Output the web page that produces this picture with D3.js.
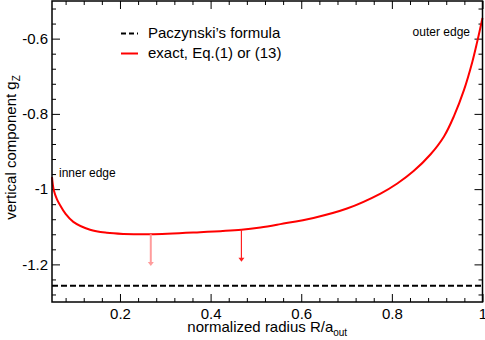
<!DOCTYPE html>
<html>
<head>
<meta charset="utf-8">
<script src="https://cdn.jsdelivr.net/npm/d3@7"></script>
<style>
  body { margin: 0; background: #fff; }
  text { font-family: "Liberation Sans", Arial, sans-serif; fill: #000; }
</style>
</head>
<body>
<div id="wrapper"></div>
<script>
// data
const radius = [0.05, 0.054, 0.061, 0.068, 0.08, 0.097, 0.134, 0.171, 0.208, 0.267, 0.37, 0.468, 0.51, 0.554, 0.627, 0.701, 0.775, 0.812, 0.848, 0.885, 0.915, 0.937, 0.959, 0.9775, 0.988, 1.0]
const gzExact = [-0.968, -1.003, -1.027, -1.043, -1.066, -1.087, -1.108, -1.116, -1.119, -1.120, -1.115, -1.108, -1.102, -1.093, -1.0765, -1.0515, -1.0117, -0.985, -0.952, -0.908, -0.860, -0.806, -0.737, -0.662, -0.610, -0.545]
const gzPaczynski = -1.2566
const arrowX = [0.268, 0.468]
const arrowFrom = [-1.12, -1.108]
const arrowTo = [-1.204, -1.193]
const arrowColors = ["#ff9c9c", "#ff2020"]
const xTicks = [0.2, 0.4, 0.6, 0.8, 1]
const yTicks = [-1.2, -1, -0.8, -0.6]
const legendLabels = ["Paczynski\u2019s formula", "exact, Eq.(1) or (13)"]

function drawChart(){
    let dimensions = {
        width: 485,
        height: 340,
        margin: { top: 1, right: 2.5, bottom: 38, left: 52 },
    }
    dimensions.boundedWidth = dimensions.width - dimensions.margin.left - dimensions.margin.right
    dimensions.boundedHeight = dimensions.height - dimensions.margin.top - dimensions.margin.bottom

    const wrapper = d3.select("#wrapper")
        .append("svg")
        .attr("width", dimensions.width)
        .attr("height", dimensions.height)

    const bounds = wrapper.append("g")
        .attr("transform", `translate(${dimensions.margin.left},${dimensions.margin.top})`)

    const xScale = d3.scaleLinear().domain([0.05, 1]).range([0, dimensions.boundedWidth])
    const yScale = d3.scaleLinear().domain([-1.3, -0.5]).range([dimensions.boundedHeight, 0])

    // minor ticks every 0.04
    const xMinor = d3.range(0.08, 1.0001, 0.04).filter(v => !xTicks.some(t => Math.abs(t - v) < 1e-6))
    const yMinor = d3.range(-1.28, -0.5, 0.04).filter(v => !yTicks.some(t => Math.abs(t - v) < 1e-6))

    const W = dimensions.boundedWidth, H = dimensions.boundedHeight
    const fmt = d => String(d)

    const axes = [
        [d3.axisBottom(xScale), `translate(0,${H})`, xTicks, xMinor, true],
        [d3.axisTop(xScale), `translate(0,0)`, xTicks, xMinor, false],
        [d3.axisLeft(yScale), `translate(0,0)`, yTicks, yMinor, true],
        [d3.axisRight(yScale), `translate(${W},0)`, yTicks, yMinor, false],
    ]
    axes.forEach(([gen, tr, major, minor, labels]) => {
        const g = bounds.append("g").attr("transform", tr)
        g.call(gen.tickValues(major).tickSizeInner(-8).tickSizeOuter(0)
            .tickPadding(labels ? (gen === axes[0][0] ? 6 : 4) : 4)
            .tickFormat(labels ? fmt : ""))
        g.append("g").call(gen.tickValues(minor).tickSizeInner(-4).tickFormat(""))
        g.selectAll(".domain").remove()
        g.selectAll("line").attr("stroke", "#000").attr("stroke-width", 1)
        g.selectAll("text").style("font-size", "15px").attr("fill", "#000")
    })

    // Paczynski line
    bounds.append("line")
        .attr("x1", 0).attr("x2", W)
        .attr("y1", yScale(gzPaczynski)).attr("y2", yScale(gzPaczynski))
        .attr("stroke", "#000").attr("stroke-width", 2)
        .attr("stroke-dasharray", "6,3")

    // exact curve
    const lineGen = d3.line()
        .x((d, i) => xScale(radius[i]))
        .y(d => yScale(d))
        .curve(d3.curveCatmullRom.alpha(0.5))
    bounds.append("path")
        .attr("d", lineGen(gzExact))
        .attr("fill", "none")
        .attr("stroke", "#ff0000")
        .attr("stroke-width", 2)

    // arrows
    arrowX.forEach((ax, i) => {
        const x = xScale(ax), y0 = yScale(arrowFrom[i]), y1 = yScale(arrowTo[i])
        bounds.append("line")
            .attr("x1", x).attr("x2", x).attr("y1", y0).attr("y2", y1 - 3)
            .attr("stroke", arrowColors[i]).attr("stroke-width", i === 0 ? 2 : 1.2)
        bounds.append("path")
            .attr("d", `M${x - 3},${y1 - 4} L${x + 3},${y1 - 4} L${x},${y1} Z`)
            .attr("fill", arrowColors[i])
    })

    // frame
    bounds.append("rect")
        .attr("width", W).attr("height", H)
        .attr("fill", "none").attr("stroke", "#000").attr("stroke-width", 1.5)

    // edge notes
    bounds.append("text").attr("x", 7).attr("y", 176)
        .style("font-size", "12px").text("inner edge")
    bounds.append("text").attr("x", 418).attr("y", 35)
        .attr("text-anchor", "end")
        .style("font-size", "12px").text("outer edge")

    // legend
    const legend = wrapper.append("g")
    const legendStyles = [
        { stroke: "#000", dash: "5,3", y: 33.5 },
        { stroke: "#ff0000", dash: null, y: 53.5 },
    ]
    legendLabels.forEach((label, i) => {
        legend.append("line")
            .attr("x1", 121).attr("x2", 138)
            .attr("y1", legendStyles[i].y).attr("y2", legendStyles[i].y)
            .attr("stroke", legendStyles[i].stroke).attr("stroke-width", 2)
            .attr("stroke-dasharray", legendStyles[i].dash)
        legend.append("text")
            .attr("x", 148).attr("y", legendStyles[i].y + 4.5)
            .style("font-size", "15px").text(label)
    })

    // axis titles
    const xTitle = wrapper.append("text")
        .attr("x", dimensions.margin.left + W / 2).attr("y", 332)
        .attr("text-anchor", "middle").style("font-size", "15px")
    xTitle.append("tspan").text("normalized radius R/a")
    xTitle.append("tspan").attr("dy", 4).style("font-size", "10px").text("out")

    const yTitle = wrapper.append("text")
        .attr("transform", `translate(16,${dimensions.margin.top + H / 2 - 4}) rotate(-90)`)
        .attr("text-anchor", "middle").style("font-size", "15px")
    yTitle.append("tspan").text("vertical component g")
    yTitle.append("tspan").attr("dy", 4).style("font-size", "10px").text("Z")
}

drawChart()
</script>
</body>
</html>
